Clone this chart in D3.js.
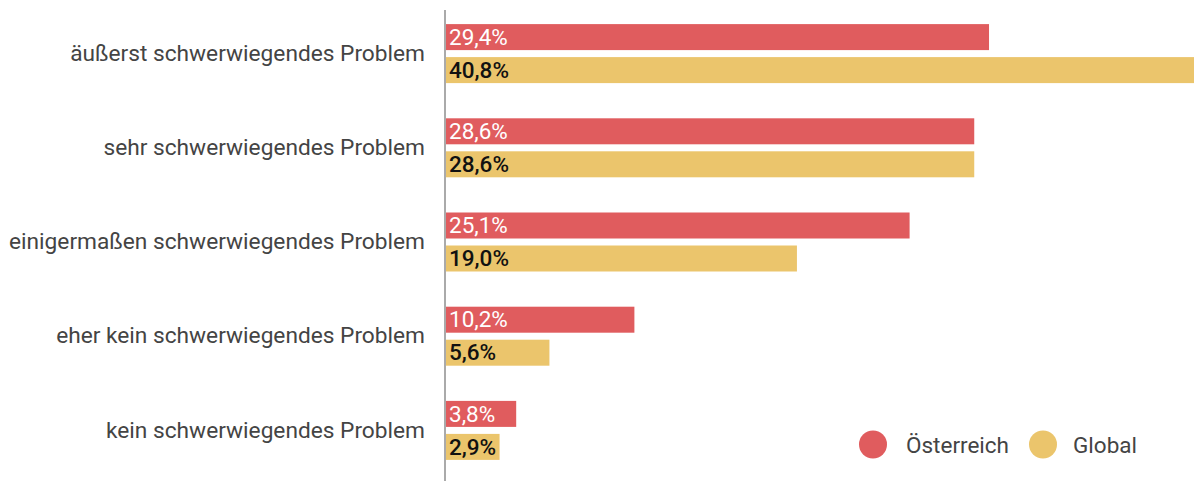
<!DOCTYPE html>
<html><head><meta charset="utf-8">
<script src="https://cdn.jsdelivr.net/npm/d3@7"></script>
<style>
html,body{margin:0;padding:0;background:#fff;}
svg{display:block;font-family:Roboto, "Noto Sans", sans-serif;}
</style></head>
<body>
<svg id="chart" width="1194" height="481"></svg>
<script>
const categories = [
  "äußerst schwerwiegendes Problem",
  "sehr schwerwiegendes Problem",
  "einigermaßen schwerwiegendes Problem",
  "eher kein schwerwiegendes Problem",
  "kein schwerwiegendes Problem"
];
const seriesNames = ["Österreich", "Global"];
const oesterreich = [29.4, 28.6, 25.1, 10.2, 3.8];
const global = [40.8, 28.6, 19.0, 5.6, 2.9];
const seriesColors = ["#e05c5e", "#ebc56c"];
const labelColors = ["#ffffff", "#111111"];

const svg = d3.select("#chart");
const x0 = 446;
const x = d3.scaleLinear().domain([0, 1]).range([x0, x0 + 18.47]);
const y = d3.scaleBand().domain(categories).range([6.5, 477.5]).padding(0);
const ys = d3.scaleBand().domain(seriesNames).range([-29.5, 29.5]).paddingInner(7/33).paddingOuter(0);

const rows = categories.map((c, i) => ({c, vals: [oesterreich[i], global[i]]}));

const g = svg.append("g");
rows.forEach(r => {
  const cy = y(r.c) + y.bandwidth() / 2;
  r.vals.forEach((v, j) => {
    const s = seriesNames[j];
    g.append("rect")
      .attr("x", x(0)).attr("y", cy + ys(s))
      .attr("width", x(v) - x(0)).attr("height", ys.bandwidth())
      .attr("fill", seriesColors[j]);
    g.append("text")
      .attr("x", x(0) + 3).attr("y", cy + ys(s) + ys.bandwidth() / 2)
      .attr("dy", "0.34em")
      .attr("font-size", 22.5)
      .attr("font-weight", j === 1 ? 500 : 400)
      .attr("fill", labelColors[j])
      .text(v.toFixed(1).replace(".", ",") + "%");
  });
});

// category axis
const axis = d3.axisLeft(y).tickSize(0).tickPadding(20);
const ag = svg.append("g").attr("transform", `translate(445,0)`).call(axis);
ag.select(".domain").remove();
ag.selectAll("text").attr("font-size", 22.7).attr("fill", "#444").attr("font-family", "Roboto, sans-serif");

svg.append("line").attr("x1", 445).attr("x2", 445).attr("y1", 10).attr("y2", 481)
  .attr("stroke", "#aaaaaa").attr("stroke-width", 2);

// legend
const legendX = [873, 1043];
const legendTextX = [906, 1073];
seriesNames.forEach((s, j) => {
  svg.append("circle").attr("cx", legendX[j]).attr("cy", 444.5).attr("r", 14).attr("fill", seriesColors[j]);
  svg.append("text").attr("x", legendTextX[j]).attr("y", 444.5).attr("dy", "0.36em")
    .attr("font-size", 22.5).attr("fill", "#444").text(s);
});
</script>
</body></html>
